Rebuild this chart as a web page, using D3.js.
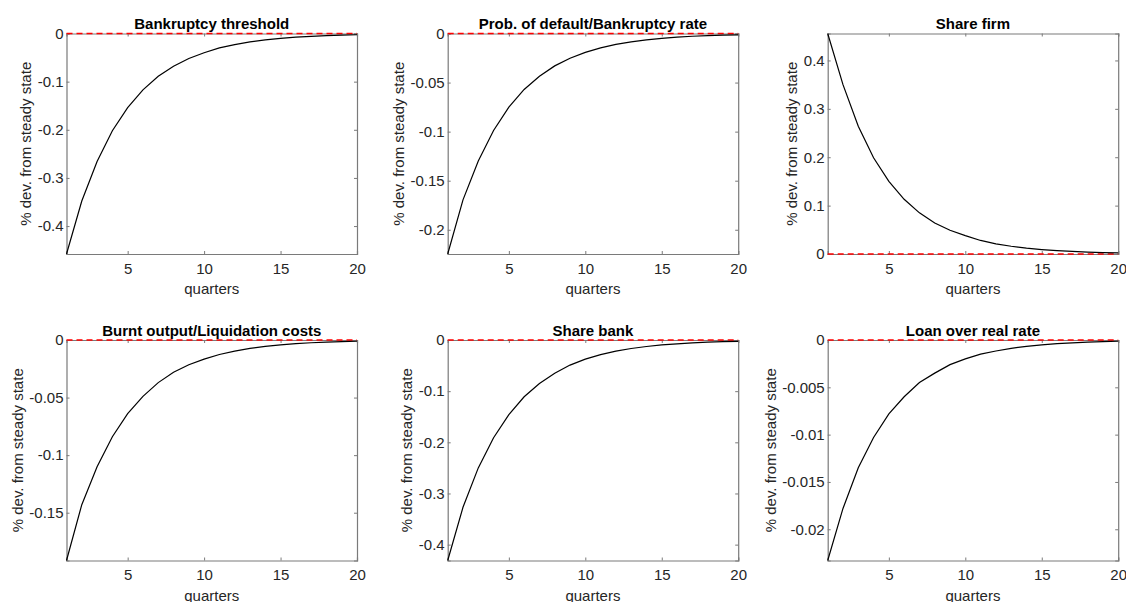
<!DOCTYPE html>
<html>
<head>
<meta charset="utf-8">
<script src="https://cdn.jsdelivr.net/npm/d3@7"></script>
<style>
  body { margin: 0; background: #fff; }
  text { font-family: "Liberation Sans", Arial, Helvetica, sans-serif; }
</style>
</head>
<body>
<script>
// impulse responses, quarters 1..20
var quarters = d3.range(1, 21);

var titles = ["Bankruptcy threshold", "Prob. of default/Bankruptcy rate", "Share firm",
              "Burnt output/Liquidation costs", "Share bank", "Loan over real rate"];

var bankruptcyThreshold = [-0.458, -0.348, -0.266, -0.202, -0.154, -0.117, -0.089, -0.068, -0.052, -0.040,
                           -0.030, -0.023, -0.0175, -0.0133, -0.0101, -0.0077, -0.0059, -0.0045, -0.0034, -0.0026];
var probDefault = [-0.2247, -0.1695, -0.130, -0.0988, -0.075, -0.057, -0.0435, -0.033, -0.0252, -0.0192,
                   -0.0146, -0.0111, -0.0085, -0.0065, -0.0049, -0.0037, -0.0028, -0.0022, -0.0017, -0.0013];
var shareFirm = [0.4557, 0.350, 0.264, 0.199, 0.150, 0.113, 0.085, 0.064, 0.049, 0.038,
                 0.028, 0.021, 0.016, 0.0121, 0.0092, 0.0070, 0.0053, 0.0040, 0.0030, 0.0023];
var burntOutput = [-0.1915, -0.143, -0.110, -0.084, -0.064, -0.049, -0.037, -0.028, -0.0215, -0.0166,
                   -0.0126, -0.0096, -0.0073, -0.0055, -0.0042, -0.0032, -0.0024, -0.0018, -0.0014, -0.0011];
var shareBank = [-0.431, -0.327, -0.250, -0.191, -0.146, -0.111, -0.085, -0.065, -0.049, -0.0375,
                 -0.0286, -0.0218, -0.0166, -0.0127, -0.0097, -0.0074, -0.0056, -0.0043, -0.0033, -0.0025];
var loanRate = [-0.0233, -0.0178, -0.0135, -0.0103, -0.0078, -0.0060, -0.0045, -0.0035, -0.0026, -0.0020,
                -0.0015, -0.00116, -0.00088, -0.00067, -0.00051, -0.00039, -0.0003, -0.00023, -0.00017, -0.00013];

var series = [bankruptcyThreshold, probDefault, shareFirm, burntOutput, shareBank, loanRate];

// axis limits (tight, as in the figure)
var yLimits = [[-0.458, 0], [-0.2247, 0], [0, 0.4557], [-0.1915, 0], [-0.431, 0], [-0.0233, 0]];
var yTicks = [[-0.4, -0.3, -0.2, -0.1, 0],
              [-0.2, -0.15, -0.1, -0.05, 0],
              [0, 0.1, 0.2, 0.3, 0.4],
              [-0.15, -0.1, -0.05, 0],
              [-0.4, -0.3, -0.2, -0.1, 0],
              [-0.02, -0.015, -0.01, -0.005, 0]];
var xTicks = [5, 10, 15, 20];

var width = 1126, height = 602;
var lefts = [66.5, 447.7, 827.7], tops = [33.5, 340];
var pw = 290.5, ph = 220.5;
var axisColor = "#7a7a7a", textColor = "#262626";

var svg = d3.select("body").append("svg")
    .attr("width", width)
    .attr("height", height);

series.forEach(function(vals, i){
    var left = lefts[i % 3], top = tops[Math.floor(i / 3)];
    var g = svg.append("g").attr("transform", "translate(" + left + "," + top + ")");

    var x = d3.scaleLinear().domain([1, 20]).range([0, pw]);
    var y = d3.scaleLinear().domain(yLimits[i]).range([ph, 0]);

    //axes first, ticks inward on all sides
    var fmt = function(d){ return d === 0 ? "0" : String(+d.toFixed(4)); };
    var bottom = g.append("g").attr("transform", "translate(0," + ph + ")")
        .call(d3.axisBottom(x).tickValues(xTicks).tickSize(-3).tickPadding(9).tickFormat(d3.format("d")));
    var topAx = g.append("g")
        .call(d3.axisTop(x).tickValues(xTicks).tickSize(-3).tickFormat(""));
    var leftAx = g.append("g")
        .call(d3.axisLeft(y).tickValues(yTicks[i]).tickSize(-3).tickPadding(3).tickFormat(fmt));
    var rightAx = g.append("g").attr("transform", "translate(" + pw + ",0)")
        .call(d3.axisRight(y).tickValues(yTicks[i]).tickSize(-3).tickFormat(""));

    [bottom, topAx, leftAx, rightAx].forEach(function(a){
        a.select(".domain").attr("stroke", axisColor).attr("stroke-width", 1.2);
        a.selectAll(".tick line").attr("stroke", axisColor);
        a.selectAll(".tick text").attr("fill", textColor).style("font-size", "15px");
    });

    //red zero line
    g.append("line")
        .attr("x1", 0).attr("x2", pw)
        .attr("y1", y(0)).attr("y2", y(0))
        .attr("stroke", "#ff0000")
        .attr("stroke-width", 1.3)
        .attr("stroke-dasharray", "6,4");

    //response line
    var line = d3.line()
        .x(function(d, j){ return x(quarters[j]); })
        .y(function(d){ return y(d); });
    g.append("path")
        .datum(vals)
        .attr("fill", "none")
        .attr("stroke", "#000")
        .attr("stroke-width", 1.2)
        .attr("d", line);

    //y label offset from widest tick label
    var maxW = 0;
    leftAx.selectAll(".tick text").each(function(){
        maxW = Math.max(maxW, this.getComputedTextLength());
    });

    g.append("text")
        .attr("transform", "translate(" + (-maxW - 9.5) + "," + (ph / 2) + ") rotate(-90)")
        .attr("text-anchor", "middle")
        .attr("fill", textColor)
        .style("font-size", "15px")
        .text("% dev. from steady state");

    g.append("text")
        .attr("x", pw / 2).attr("y", ph + 40)
        .attr("text-anchor", "middle")
        .attr("fill", textColor)
        .style("font-size", "15px")
        .text("quarters");

    g.append("text")
        .attr("x", pw / 2).attr("y", -4.5)
        .attr("text-anchor", "middle")
        .attr("fill", "#000")
        .style("font-size", "15px")
        .style("font-weight", "bold")
        .text(titles[i]);
});
</script>
</body>
</html>
